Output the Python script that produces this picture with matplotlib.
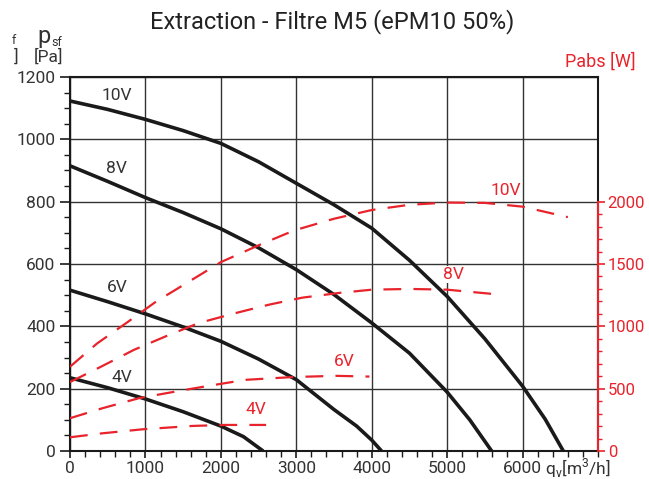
import numpy as np
import matplotlib
matplotlib.use("Agg")
import matplotlib.pyplot as plt
from matplotlib.ticker import MultipleLocator, NullFormatter

plt.rcParams['font.family'] = ['Roboto', 'DejaVu Sans']

RED = '#e8232b'
DARK = '#1a1a1a'

# pressure curves p_sf [Pa] vs q_v [m3/h]
q10 = [0, 500, 1000, 1500, 2000, 2500, 3000, 3500, 4000, 4500, 5000, 5500, 6000, 6300, 6540]
p10 = [1123, 1096, 1064, 1028, 987, 928, 859, 790, 715, 612, 496, 360, 208, 102, 0]
q8 = [0, 500, 1000, 1500, 2000, 2500, 3000, 3500, 4000, 4500, 5000, 5300, 5590]
p8 = [915, 865, 813, 765, 713, 652, 582, 502, 411, 314, 189, 100, 0]
q6 = [0, 500, 1000, 1500, 2000, 2500, 3000, 3500, 3800, 4000, 4130]
p6 = [516, 479, 440, 398, 352, 295, 229, 133, 80, 35, 0]
q4 = [0, 500, 1000, 1500, 2000, 2300, 2560]
p4 = [235, 203, 167, 126, 80, 46, 0]

# absorbed power Pabs [W]
wq10 = [0, 360, 740, 1140, 1540, 1760, 2000, 2500, 2970, 3500, 4000, 4500, 5000, 5500, 6000, 6600]
w10 = [676, 863, 1024, 1198, 1345, 1426, 1515, 1650, 1769, 1863, 1933, 1975, 1993, 1990, 1960, 1876]
wq8 = [0, 410, 850, 1270, 1710, 2200, 2640, 3080, 3570, 4000, 4500, 5000, 5600]
w8 = [553, 676, 812, 920, 1027, 1107, 1174, 1230, 1268, 1294, 1300, 1294, 1260]
wq6 = [0, 430, 915, 1400, 1840, 2330, 2950, 3520, 3970]
w6 = [263, 343, 424, 477, 523, 571, 593, 603, 597]
wq4 = [0, 430, 960, 1620, 2060, 2600]
w4 = [110, 142, 174, 201, 209, 209]

pressure = [(q10, p10), (q8, p8), (q6, p6), (q4, p4)]
power = [(wq10, w10), (wq8, w8), (wq6, w6), (wq4, w4)]
speeds = ['10V', '8V', '6V', '4V']
# label anchors (q, value)
p_lab = [(623, 1141), (623, 906), (623, 525), (689, 235)]
w_lab = [(5782, 2090), (5080, 1415), (3634, 716), (2467, 330)]

fig = plt.figure(figsize=(6.49, 4.79), dpi=100)
ax = fig.add_axes([70/649, 28/479, 528/649, 374/479])

ax.set_xlim(0, 7000)
ax.set_ylim(0, 1200)
ax.set_xticks(np.arange(0, 7000, 1000))
ax.xaxis.set_minor_locator(MultipleLocator(200))
ax.yaxis.set_major_locator(MultipleLocator(200))
ax.yaxis.set_minor_locator(MultipleLocator(50))
ax.grid(True, which='major', color='#333333', lw=1.0)
ax.tick_params(which='major', length=7, width=1.2, labelsize=12.5, color=DARK, labelcolor='#333333')
ax.tick_params(axis='x', which='major', length=5, pad=2)
ax.tick_params(which='minor', length=4, width=1.0, color=DARK)
for s in ax.spines.values():
    s.set_linewidth(1.5)
    s.set_color(DARK)

for (q, p), lab, (lx, ly) in zip(pressure, speeds, p_lab):
    ax.plot(q, p, color=DARK, lw=2.6, solid_capstyle='butt', solid_joinstyle='round', zorder=4)
    ax.text(lx, ly, lab, fontsize=12.5, color='#333333', ha='center', va='center')

ax2 = ax.twinx()
ax2.set_yticks(np.arange(0, 2001, 500))
ax2.set_yticks(np.arange(100, 2001, 100), minor=True)
ax2.set_ylim(0, 3000)
ax2.spines['right'].set_bounds(0, 2000)
ax2.spines['right'].set_color(RED)
ax2.spines['right'].set_linewidth(1.5)
for k in ['left', 'top', 'bottom']:
    ax2.spines[k].set_visible(False)
ax2.tick_params(axis='y', which='major', length=5, width=1.2, colors=RED, labelsize=12, pad=2)
ax2.tick_params(axis='y', which='minor', length=3, width=1.0, colors=RED)

for (q, w), lab, (lx, ly) in zip(power, speeds, w_lab):
    ax2.plot(q, w, color=RED, lw=1.6, dashes=(8, 5.5), zorder=3)
    ax2.text(lx, ly, lab, fontsize=12.5, color=RED, ha='center', va='center',
             bbox=dict(facecolor='white', edgecolor='none', pad=0.5))

# stray left axis at the image edge
ax3 = ax.twinx()
for k in ['right', 'top', 'bottom']:
    ax3.spines[k].set_visible(False)
ax3.spines['left'].set_position(('outward', 55))
ax3.spines['left'].set_bounds(-11, 1189)
ax3.spines['left'].set_linewidth(1.5)
ax3.spines['left'].set_color(DARK)
ax3.yaxis.set_ticks_position('left')
ax3.set_yticks([187, 379, 565, 757, 949, 1173])
ax3.set_ylim(0, 1200)
ax3.yaxis.set_major_formatter(NullFormatter())
ax3.tick_params(axis='y', length=3, width=1.2, color=DARK)

fig.text(332/649, 1 - 22/479, 'Extraction - Filtre M5 (ePM10 50%)', fontsize=17,
         ha='center', va='center', color='#222222')
fig.text(37/649, 1 - 37/479, 'p', fontsize=17, ha='left', va='center', color='#333333')
fig.text(51/649, 1 - 42/479, 'sf', fontsize=9, ha='left', va='center', color='#333333')
fig.text(48/649, 1 - 57/479, '[Pa]', fontsize=12.5, ha='center', va='center', color='#333333')
fig.text(14/649, 1 - 40/479, 'f', fontsize=9, ha='center', va='center', color='#333333')
fig.text(16/649, 1 - 57/479, ']', fontsize=12.5, ha='center', va='center', color='#333333')
fig.text(600/649, 1 - 62/479, 'Pabs [W]', fontsize=13, ha='center', va='center', color=RED)
fig.text(545/649, 1 - 468/479, r'q$_\mathregular{v}$[m$^\mathregular{3}$/h]', fontsize=12.5,
         ha='left', va='center', color='#333333')

fig.savefig('out.png', dpi=100)
